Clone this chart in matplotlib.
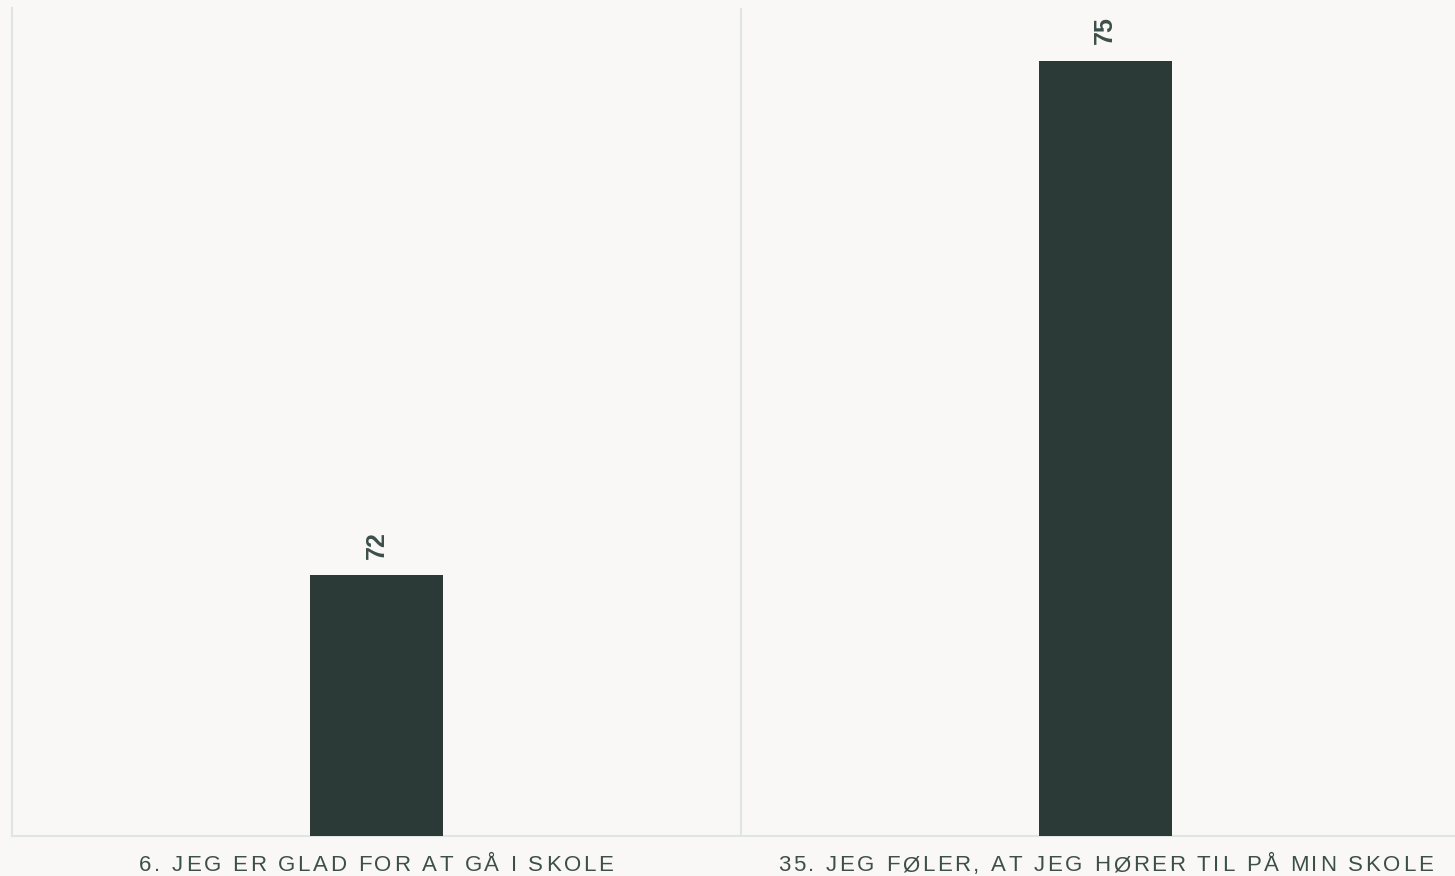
import matplotlib.pyplot as plt
from matplotlib.font_manager import FontProperties

categories = ["6. JEG ER GLAD FOR AT GÅ I SKOLE",
              "35. JEG FØLER, AT JEG HØRER TIL PÅ MIN SKOLE"]
values = [72, 75]

bg = "#f9f8f6"
bar_col = "#2b3a36"
txt_col = "#3d4f4b"
line_col = "#dfe4e4"

W, H = 1455, 876
fig = plt.figure(figsize=(W / 100, H / 100), dpi=100, facecolor=bg)
ax = fig.add_axes([12 / W, 40 / H, 1443 / W, 828 / H], facecolor=bg)

x = list(range(len(values)))
ax.bar(x, values, width=0.1825, color=bar_col, zorder=3)
ax.set_xlim(-0.5, 1.48)
ax.set_ylim(70.48, 75.31)

for xi, v in zip(x, values):
    ax.annotate(str(v), (xi, v), xytext=(0, 12), textcoords="offset points",
                rotation=90, ha="center", va="bottom", fontsize=18,
                fontweight="bold", color=txt_col,
                family=["Liberation Sans", "DejaVu Sans"])

ax.axvline(0.5, color=line_col, lw=1.5, zorder=1)

ax.set_xticks(x)
ax.set_xticklabels([])
ax.tick_params(axis="x", length=0)
ax.set_yticks([])

for s in ["top", "right"]:
    ax.spines[s].set_visible(False)
for s in ["left", "bottom"]:
    ax.spines[s].set_color(line_col)
    ax.spines[s].set_linewidth(1.5)

# letter-spaced category labels, placed char by char in pixels
fp = FontProperties(family="Liberation Sans", size=16)
renderer = fig.canvas.get_renderer()
tracking = 2.7
base_y = H - 871
space_w = renderer.get_text_width_height_descent("a a", fp, ismath=False)[0] \
    - renderer.get_text_width_height_descent("aa", fp, ismath=False)[0]
for xi, label in zip(x, categories):
    cx = ax.transData.transform((xi, 0))[0]
    widths = []
    for ch in label:
        if ch == " ":
            widths.append(space_w)
        else:
            widths.append(renderer.get_text_width_height_descent(ch, fp, ismath=False)[0])
    total = sum(widths) + tracking * (len(label) - 1)
    pos = cx - total / 2
    for ch, w in zip(label, widths):
        fig.text(pos, base_y, ch, transform=None, fontproperties=fp,
                 color=txt_col, ha="left", va="baseline")
        pos += w + tracking

fig.savefig("out.png", dpi=100, facecolor=bg)
